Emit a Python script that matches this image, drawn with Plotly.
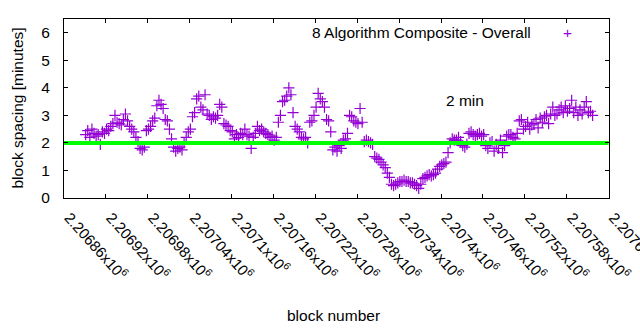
import plotly.graph_objects as go

# ---- data ----
block_start = 2206891
block_step = 3
spacing_minutes = [
    2.3, 2.45, 2.2, 2.5, 2.35, 2.25, 2.3, 1.95, 2.4, 2.35,
    2.5, 2.45, 2.6, 2.7, 3.0, 2.75, 2.7, 2.65, 2.85, 3.05,
    2.8, 2.6, 2.5, 2.4, 2.2, 2.05, 1.8, 1.75, 1.85, 2.45,
    2.5, 2.6, 2.8, 2.9, 3.35, 3.55, 3.4, 3.25, 2.85, 2.8,
    2.5, 2.15, 1.85, 1.7, 1.8, 1.85, 1.75, 2.0, 2.2, 2.4,
    2.5, 2.95, 3.1, 3.6, 3.7, 3.3, 3.2, 3.75, 3.05, 3.0,
    2.85, 2.95, 2.9, 3.0, 3.4, 3.3, 2.7, 2.65, 2.6, 2.45,
    2.4, 2.15, 2.3, 2.2, 2.35, 2.3, 2.5, 2.3, 2.25, 1.8,
    2.2, 2.35, 2.6, 2.45, 2.5, 2.4, 2.35, 2.3, 2.2, 2.25,
    2.1, 2.2, 2.75, 3.0, 3.5, 3.55, 3.7, 4.0, 3.75, 3.1,
    2.6, 2.5, 2.4, 2.2, 2.15, 2.2, 2.0, 2.75, 2.8, 3.0,
    3.3, 3.8, 3.6, 3.5, 3.3, 2.85, 2.8, 2.4, 1.75, 1.85,
    1.7, 1.9, 1.8, 2.1, 2.15, 2.35, 3.0, 2.95, 2.8, 2.75,
    2.7, 3.25, 2.75, 2.05, 2.1, 2.05, 2.0, 1.95, 1.5, 1.45,
    1.4, 1.3, 1.2, 1.1, 0.9, 0.75, 0.5, 0.45, 0.5, 0.55,
    0.6, 0.6, 0.65, 0.6, 0.6, 0.55, 0.55, 0.5, 0.45, 0.35,
    0.5, 0.7, 0.75, 0.8, 0.85, 0.8, 0.85, 0.9, 1.05, 1.15,
    1.2, 1.25, 1.3, 1.65, 2.0, 2.15, 2.1, 2.1, 2.2, 2.05,
    1.9, 1.85, 1.95, 2.35, 2.4, 2.3, 2.25, 2.3, 2.35, 2.25,
    2.3, 1.9, 1.8, 2.0, 2.05, 1.7, 1.95, 1.8, 2.1, 1.65,
    1.9, 2.25, 2.3, 2.3, 2.2, 2.15, 2.35, 2.8, 2.85, 2.5,
    2.6, 2.75, 2.5, 2.65, 2.7, 2.85, 2.55, 2.9, 2.75, 2.95,
    3.0, 2.7, 3.05, 3.3, 3.0, 3.05, 3.2, 3.3, 3.1, 3.35,
    3.15, 3.25, 3.55, 3.1, 3.3, 3.0, 3.2, 3.05, 3.3, 3.5,
    3.1, 3.15, 3.0,
]
blocks = [block_start + block_step * i for i in range(len(spacing_minutes))]

target_minutes = 2
x_min, x_max = 2206860, 2207640
x_tick_vals = [2206860 + 60 * k for k in range(14)]
x_tick_text = ["2.20686", "2.20692", "2.20698", "2.20704", "2.2071", "2.20716",
               "2.20722", "2.20728", "2.20734", "2.2074", "2.20746", "2.20752",
               "2.20758", "2.20764"]
y_tick_vals = [0, 1, 2, 3, 4, 5, 6]

series_name = "8 Algorithm Composite - Overall"
line_label = "2 min"

PURPLE = "#9400D3"
GREEN = "#00FF00"
FONT = "Liberation Sans, Arial, sans-serif"
FS = 15.5

fig = go.Figure()
fig.add_trace(go.Scatter(
    x=blocks, y=spacing_minutes, mode="markers", name=series_name,
    marker=dict(symbol="cross-thin", size=8, color=PURPLE,
                line=dict(color=PURPLE, width=1.2)),
    showlegend=False,
))
fig.add_trace(go.Scatter(
    x=[x_min, x_max], y=[target_minutes, target_minutes], mode="lines",
    name=line_label, line=dict(color=GREEN, width=4), showlegend=False,
))

fig.update_layout(
    width=640, height=330,
    margin=dict(l=64, r=31, t=19, b=132),
    plot_bgcolor="white", paper_bgcolor="white",
    font=dict(family=FONT, size=FS, color="black"),
    showlegend=False,
)
fig.update_xaxes(
    range=[x_min, x_max + 0.5], tickmode="array", tickvals=x_tick_vals,
    ticktext=[t + "x10<sup>6</sup>" for t in x_tick_text],
    tickangle=48, ticks="inside", ticklen=4, tickcolor="black",
    showline=True, linecolor="black", linewidth=1, mirror="ticks",
    showgrid=False, zeroline=False, ticklabelstandoff=4, ticklabelshift=5,
    ticklabeloverflow="allow", automargin=False,
    tickfont=dict(family=FONT, size=15),
)
fig.update_yaxes(
    range=[0, 6.5], tickmode="array", tickvals=y_tick_vals,
    ticks="inside", ticklen=4, tickcolor="black",
    showline=True, linecolor="black", linewidth=1, mirror="ticks",
    showgrid=False, zeroline=False, ticklabelstandoff=10,
    automargin=False,
    tickfont=dict(family=FONT, size=FS),
)

fig.add_annotation(text="block spacing [minutes]", xref="paper", yref="paper",
                   x=-0.0862, y=0.5, textangle=-90, showarrow=False,
                   xanchor="center", yanchor="middle", font=dict(size=FS))
fig.add_annotation(text="block number", xref="paper", yref="paper",
                   x=0.4936, y=-0.659, showarrow=False,
                   xanchor="center", yanchor="middle", font=dict(size=FS))
fig.add_annotation(text=series_name, xref="paper", yref="paper",
                   x=0.8606, y=0.927, showarrow=False,
                   xanchor="right", yanchor="middle", font=dict(size=FS))
fig.add_annotation(text="+", xref="paper", yref="paper",
                   x=0.923, y=0.927, showarrow=False,
                   xanchor="center", yanchor="middle",
                   font=dict(size=FS, color=PURPLE))
fig.add_annotation(text=line_label, xref="paper", yref="paper",
                   x=0.736, y=0.542, showarrow=False,
                   xanchor="center", yanchor="middle", font=dict(size=FS))

fig.write_html("out.html")
